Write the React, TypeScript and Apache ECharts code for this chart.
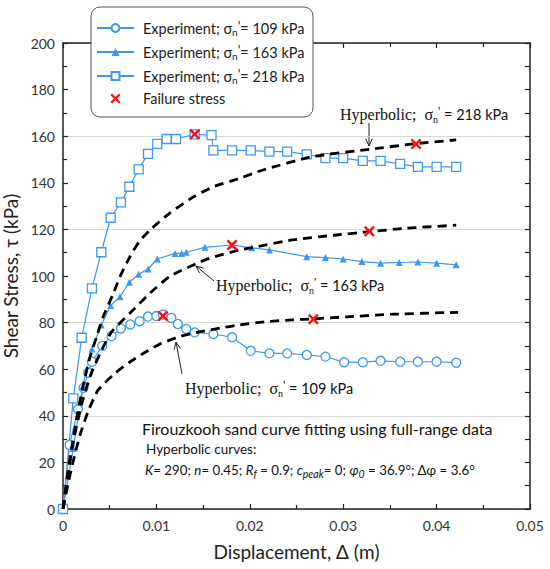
import React, { useEffect, useRef } from 'react';
import * as echarts from 'echarts';

// ---------- data (displacement m, shear stress kPa) ----------
const exp109: [number, number][] = [
  [0, 0], [0.0007, 27.5], [0.0016, 42.8], [0.0022, 52], [0.0027, 58.5], [0.0031, 63.2],
  [0.0042, 70], [0.0052, 74.2], [0.0062, 77.5], [0.0072, 79.2], [0.0082, 80.6], [0.0091, 82.6],
  [0.01, 82.8], [0.0107, 83.5], [0.0116, 82], [0.0123, 79.4], [0.0132, 77.3], [0.0141, 75.8],
  [0.0161, 75.1], [0.0181, 73.7], [0.0201, 67.9], [0.0221, 66.8], [0.024, 66.8], [0.0261, 66.1],
  [0.0281, 65.4], [0.0301, 63], [0.0321, 63], [0.034, 63.6], [0.0361, 63.2], [0.038, 63.2],
  [0.04, 63.2], [0.0421, 62.8],
];
const exp163: [number, number][] = [
  [0, 0], [0.0011, 26], [0.0021, 52.5], [0.0031, 68.7], [0.0041, 79], [0.0051, 87.3],
  [0.0061, 91.1], [0.0071, 97.3], [0.0081, 100.7], [0.0091, 103], [0.0101, 107.3], [0.012, 109.7],
  [0.0127, 109.7], [0.0132, 110.2], [0.0152, 112.3], [0.0181, 113.3], [0.0202, 112.1],
  [0.0221, 111.2], [0.0261, 108.3], [0.0281, 107.9], [0.03, 107.3], [0.032, 106.2], [0.034, 105.5],
  [0.036, 105.8], [0.038, 106], [0.04, 105.5], [0.0421, 104.8],
];
const exp218: [number, number][] = [
  [0, 0], [0.0011, 47.5], [0.002, 73.5], [0.0031, 94.7], [0.0041, 110.2], [0.0051, 125],
  [0.0062, 131.6], [0.0071, 138.3], [0.0081, 145.8], [0.0091, 152.4], [0.0101, 156.7],
  [0.0111, 158.8], [0.0121, 158.8], [0.0141, 160.8], [0.0159, 160.5], [0.0161, 153.9],
  [0.0181, 153.9], [0.0201, 153.9], [0.0221, 153.4], [0.024, 153.4], [0.0261, 152.2],
  [0.0281, 150.6], [0.03, 150.6], [0.0321, 149.4], [0.034, 149.4], [0.0361, 148.1],
  [0.038, 146.8], [0.04, 146.8], [0.0421, 146.8],
];
const failure: [number, number][] = [
  [0.0107, 82.8], [0.0268, 81.4], [0.0181, 113.3], [0.0328, 119.2], [0.0141, 160.8], [0.0378, 156.7],
];
const hyp109: [number, number][] = [
  [0, 0], [0.0005, 10], [0.001, 19], [0.0015, 27], [0.002, 34], [0.0027, 42], [0.00375, 51],
  [0.0055, 58], [0.0072, 63.2], [0.0089, 67.5], [0.0105, 71], [0.0125, 74], [0.0147, 76.1],
  [0.0168, 77.6], [0.0189, 79], [0.0218, 80.4], [0.0246, 81.2], [0.0268, 81.6], [0.0304, 82.5],
  [0.0354, 83.6], [0.0423, 84.4],
];
const hyp163: [number, number][] = [
  [0, 0], [0.0005, 14], [0.001, 27], [0.002, 45], [0.003, 58], [0.004, 67], [0.0052, 76],
  [0.00715, 84], [0.0093, 92.6], [0.0114, 99.7], [0.0143, 105.4], [0.0157, 107.6], [0.0189, 111.2],
  [0.0204, 112.3], [0.0246, 115.5], [0.0293, 117.6], [0.0328, 119], [0.0368, 120.5], [0.0421, 121.8],
];
const hyp218: [number, number][] = [
  [0, 0], [0.0005, 15], [0.001, 28], [0.0016, 42], [0.0023, 55.4], [0.0029, 65.4], [0.0036, 74],
  [0.0043, 82.5], [0.0054, 92.6], [0.0061, 99.7], [0.0072, 108.5], [0.0082, 115], [0.0093, 119.7],
  [0.0114, 126.9], [0.0139, 133.8], [0.0161, 138.3], [0.0189, 141.9], [0.0214, 145.5],
  [0.0268, 151.3], [0.0329, 154.4], [0.0375, 156.7], [0.0421, 158.4],
];
const xTickLabels = ['0', '0.01', '0.02', '0.03', '0.04', '0.05'];
const legendNames = [
  "Experiment; σn'= 109 kPa",
  "Experiment; σn'= 163 kPa",
  "Experiment; σn'= 218 kPa",
  'Failure stress',
];

const BLUE = '#3d98ee';
const FONT = 'Lato';
const XPATH =
  'path://M0,1.6L1.6,0L5,3.4L8.4,0L10,1.6L6.6,5L10,8.4L8.4,10L5,6.6L1.6,10L0,8.4L3.4,5Z';

const richBase = {
  a: { fontFamily: FONT, fontSize: 14.5, lineHeight: 18, color: '#222' },
  a0: { fontFamily: FONT, fontSize: 14.5, lineHeight: 18, color: '#222', padding: [0, 0, 0, 4] },
  s: { fontFamily: FONT, fontSize: 10, lineHeight: 10, verticalAlign: 'bottom', color: '#222' },
  p: { fontFamily: FONT, fontSize: 13, lineHeight: 12, verticalAlign: 'top', color: '#222' },
};

function legendLabel(name: string) {
  if (name === 'Failure stress') return '{a0|Failure stress}';
  const kpa = name.match(/(\d+) kPa/)![1];
  return `{a0|Experiment; σ}{s|n}{p|'}{a|= ${kpa} kPa}`;
}

const hypRich = {
  h: { fontFamily: 'Liberation Serif', fontSize: 16, lineHeight: 20, fill: '#111' },
  g: { fontFamily: 'Liberation Serif', fontSize: 16, lineHeight: 20, fill: '#111' },
  s: { fontFamily: 'Liberation Serif', fontSize: 10, lineHeight: 10, verticalAlign: 'bottom', fill: '#111' },
  p: { fontFamily: 'Liberation Serif', fontSize: 13, lineHeight: 12, verticalAlign: 'top', fill: '#111' },
  t: { fontFamily: FONT, fontSize: 14.5, lineHeight: 20, fill: '#111' },
};

function hypText(kpa: string, x: number, y: number) {
  return {
    type: 'text',
    x,
    y,
    z: 5,
    style: {
      text: `{h|Hyperbolic;}{g|  σ}{s|n}{p|'}{t| = ${kpa} kPa}`,
      rich: hypRich,
      verticalAlign: 'middle',
      align: 'left',
    },
  };
}

function arrow(x1: number, y1: number, x2: number, y2: number) {
  const ang = Math.atan2(y2 - y1, x2 - x1);
  const L = 8;
  const w = 0.42;
  const pA = [x2 - L * Math.cos(ang - w), y2 - L * Math.sin(ang - w)];
  const pB = [x2 - L * Math.cos(ang + w), y2 - L * Math.sin(ang + w)];
  return {
    type: 'group',
    z: 5,
    children: [
      { type: 'line', shape: { x1, y1, x2, y2 }, style: { stroke: '#222', lineWidth: 1 } },
      { type: 'polyline', shape: { points: [pA, [x2, y2], pB] }, style: { stroke: '#222', lineWidth: 1, fill: 'none' } },
    ],
  };
}

const tickStyle = { show: true, inside: true, length: 5, lineStyle: { color: '#222', width: 1.2 } };
const minorStyle = { show: true, splitNumber: 2, length: 4, lineStyle: { color: '#222', width: 1.2 } };
const axisLineStyle = { show: true, onZero: false, lineStyle: { color: '#222', width: 1.5 } };

export default function App() {
  const ref = useRef<HTMLDivElement>(null);
  useEffect(() => {
    const chart = echarts.init(ref.current!, null, { renderer: 'svg' });
    const expSeries = (name: string, data: [number, number][], symbol: string, size: number, filled: boolean) => ({
      type: 'line',
      name,
      data,
      symbol,
      symbolSize: size,
      showSymbol: true,
      z: 2,
      lineStyle: { color: BLUE, width: 1.2 },
      itemStyle: filled
        ? { color: BLUE, borderColor: BLUE, borderWidth: 0 }
        : { color: '#ffffff', borderColor: BLUE, borderWidth: 1.3 },
    });
    const hypSeries = (data: [number, number][]) => ({
      type: 'line',
      data,
      symbol: 'none',
      smooth: 0.2,
      z: 3,
      silent: true,
      lineStyle: { color: '#000', width: 2.8, type: [9, 6] },
    });
    chart.setOption({
      animation: false,
      grid: { left: 63, right: 20, top: 43, bottom: 60, outerBoundsMode: 'none', containLabel: false },
      xAxis: [
        {
          type: 'value',
          min: 0,
          max: 0.05,
          interval: 0.01,
          axisLine: axisLineStyle,
          axisTick: tickStyle,
          minorTick: minorStyle,
          splitLine: { show: false },
          axisLabel: {
            margin: 9,
            fontFamily: FONT,
            fontSize: 14,
            color: '#333',
            formatter: (v: number) => xTickLabels[Math.round(v / 0.01)] ?? '',
          },
          name: 'Displacement, Δ (m)',
          nameLocation: 'middle',
          nameGap: 33,
          nameTextStyle: { fontFamily: FONT, fontSize: 19, color: '#222' },
        },
        {
          type: 'value',
          position: 'top',
          min: 0,
          max: 0.05,
          interval: 0.01,
          axisLine: axisLineStyle,
          axisTick: tickStyle,
          minorTick: minorStyle,
          splitLine: { show: false },
          axisLabel: { show: false },
        },
      ],
      yAxis: [
        {
          type: 'value',
          min: 0,
          max: 200,
          interval: 20,
          axisLine: axisLineStyle,
          axisTick: tickStyle,
          minorTick: minorStyle,
          splitLine: { show: false },
          axisLabel: { margin: 8, fontFamily: FONT, fontSize: 14, color: '#333' },
          name: 'Shear Stress, τ (kPa)',
          nameLocation: 'middle',
          nameGap: 33,
          nameTextStyle: { fontFamily: FONT, fontSize: 19, color: '#222' },
        },
        {
          type: 'value',
          position: 'right',
          min: 0,
          max: 200,
          interval: 40,
          axisLine: axisLineStyle,
          axisTick: tickStyle,
          minorTick: { ...minorStyle, splitNumber: 4, length: 5 },
          splitLine: { show: true, lineStyle: { color: '#d8d8d8', width: 1 } },
          axisLabel: { show: false },
        },
      ],
      legend: {
        orient: 'vertical',
        left: 96,
        top: 19,
        padding: 0,
        itemWidth: 37,
        itemHeight: 10,
        itemGap: 6,
        data: legendNames,
        formatter: legendLabel,
        textStyle: { rich: richBase },
        selectedMode: false,
      },
      series: [
        expSeries(legendNames[0], exp109, 'circle', 9, false),
        expSeries(legendNames[1], exp163, 'triangle', 7, true),
        expSeries(legendNames[2], exp218, 'rect', 9, false),
        hypSeries(hyp109),
        hypSeries(hyp163),
        hypSeries(hyp218),
        {
          type: 'scatter',
          name: legendNames[3],
          data: failure,
          symbol: XPATH,
          symbolSize: 11,
          z: 4,
          itemStyle: { color: '#ff1010', opacity: 1 },
        },
      ],
      graphic: [
        {
          type: 'rect',
          z: 3,
          shape: { x: 91, y: 7, width: 222, height: 110, r: 9 },
          style: { fill: '#ffffff', stroke: '#555', lineWidth: 1 },
        },
        hypText('218', 340, 114),
        hypText('163', 216, 285),
        hypText('109', 185, 388),
        arrow(369, 123, 369, 146),
        arrow(214, 281, 196, 266),
        arrow(182, 374, 176, 342),
        {
          type: 'text',
          x: 142,
          y: 428,
          z: 5,
          style: { text: 'Firouzkooh sand curve fitting using full-range data', fontFamily: FONT, fontSize: 16, fill: '#111', verticalAlign: 'middle' },
        },
        {
          type: 'text',
          x: 146,
          y: 449,
          z: 5,
          style: { text: 'Hyperbolic curves:', fontFamily: FONT, fontSize: 13.5, fill: '#111', verticalAlign: 'middle' },
        },
        {
          type: 'text',
          x: 145,
          y: 470,
          z: 5,
          style: {
            text:
              '{i|K}{n|= 290; }{i|n}{n|= 0.45; }{i|R}{is|f}{n| = 0.9; }{i|c}{is|peak}{n|= 0; }{i|φ}{is|0}{n| = 36.9°; Δφ = 3.6°}',
            verticalAlign: 'middle',
            rich: {
              n: { fontFamily: FONT, fontSize: 13.3, lineHeight: 18, fill: '#111' },
              i: { fontFamily: FONT, fontSize: 13.3, fontStyle: 'italic', lineHeight: 18, fill: '#111' },
              is: { fontFamily: FONT, fontSize: 10.5, fontStyle: 'italic', lineHeight: 10, verticalAlign: 'bottom', fill: '#111' },
            },
          },
        },
      ],
    });
    return () => chart.dispose();
  }, []);
  return <div ref={ref} style={{ position: 'absolute', left: 0, top: 0, width: 550, height: 569 }} />;
}
